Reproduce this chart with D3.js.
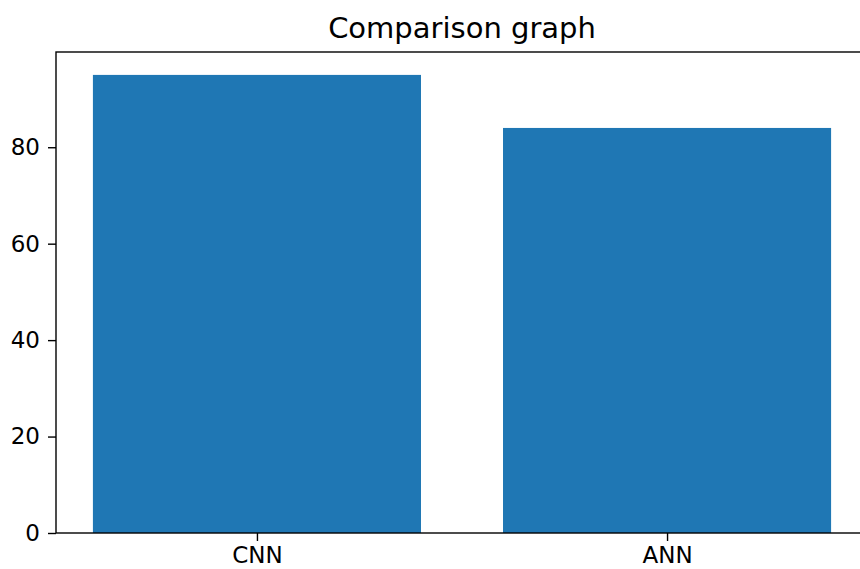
<!DOCTYPE html>
<html>
<head>
<meta charset="utf-8">
<script src="https://d3js.org/d3.v7.min.js"></script>
<style>
  body { margin: 0; background: #fff; }
  svg { display: block; }
  text { font-family: "DejaVu Sans", sans-serif; fill: #000; }
  .tick text { font-size: 23px; }
  .title { font-size: 29px; }
</style>
</head>
<body>
<div id="chart"></div>
<script>
var width = 860;
var height = 569;

var left = 56, right = 868, top_axes = 52, bottom = 533;

// data
var categories = ['CNN', 'ANN'];
var values = [95, 84];
var yTicks = [0, 20, 40, 60, 80];

var COLOR_BAR = '#1f77b4';
var BAR_WIDTH = 0.8;

var svg = d3.select('#chart')
    .append('svg')
    .attr('width', width)
    .attr('height', height);

// matplotlib style limits: 5% margins
var xMin = -BAR_WIDTH / 2, xMax = categories.length - 1 + BAR_WIDTH / 2;
var xPad = (xMax - xMin) * 0.05;
var x = d3.scaleLinear()
    .domain([xMin - xPad, xMax + xPad])
    .range([left, right]);

var y = d3.scaleLinear()
    .domain([0, d3.max(values) * 1.05])
    .range([bottom, top_axes]);

// bars
svg.selectAll('rect.bar')
    .data(values)
    .enter().append('rect')
    .attr('class', 'bar')
    .attr('x', function (d, i) { return x(i - BAR_WIDTH / 2); })
    .attr('width', function (d, i) { return x(i + BAR_WIDTH / 2) - x(i - BAR_WIDTH / 2); })
    .attr('y', function (d) { return y(d); })
    .attr('height', function (d) { return y(0) - y(d); })
    .style('fill', COLOR_BAR);

// axes
var xAxis = d3.axisBottom(x)
    .tickValues(d3.range(categories.length))
    .tickFormat(function (d) { return categories[d]; })
    .tickSize(8)
    .tickPadding(6);

var gx = svg.append('g')
    .attr('transform', 'translate(0,' + bottom + ')')
    .call(xAxis);
gx.select('.domain').remove();

var yAxis = d3.axisLeft(y)
    .tickValues(yTicks)
    .tickSize(8)
    .tickPadding(8);

var gy = svg.append('g')
    .attr('transform', 'translate(' + left + ',0)')
    .call(yAxis);
gy.select('.domain').remove();

svg.selectAll('.tick line')
    .attr('stroke', '#000')
    .attr('stroke-width', 1.4);
svg.selectAll('.tick text')
    .attr('fill', '#1a1a1a');

// frame (spines)
svg.append('rect')
    .attr('x', left)
    .attr('y', top_axes)
    .attr('width', right - left)
    .attr('height', bottom - top_axes)
    .attr('fill', 'none')
    .attr('stroke', '#000')
    .attr('stroke-width', 1.4);

// title
svg.append('text')
    .attr('class', 'title')
    .attr('x', (left + right) / 2)
    .attr('y', top_axes - 14)
    .attr('text-anchor', 'middle')
    .attr('fill', '#1a1a1a')
    .text('Comparison graph');
</script>
</body>
</html>
